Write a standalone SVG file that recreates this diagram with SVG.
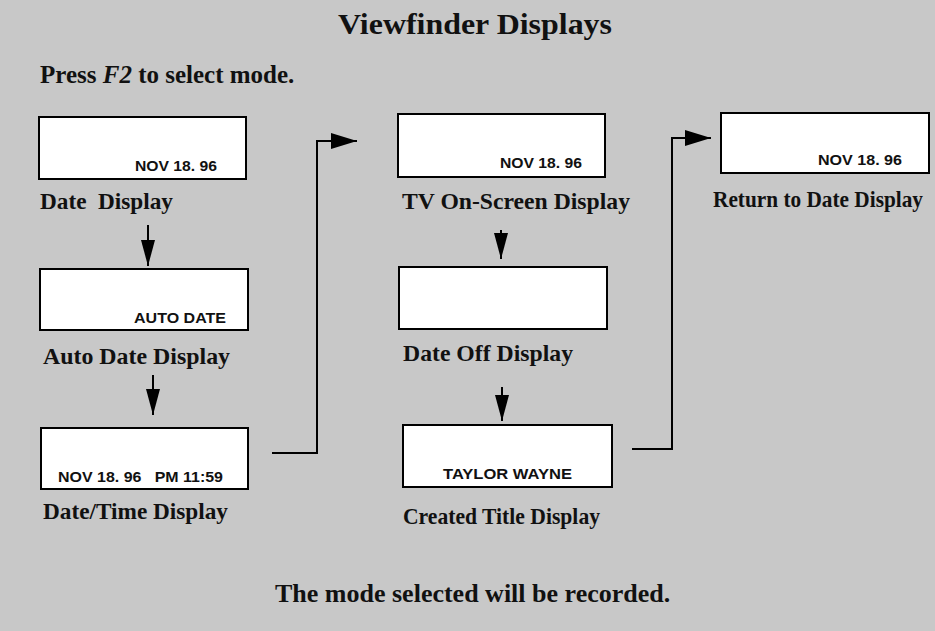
<svg xmlns="http://www.w3.org/2000/svg" width="935" height="631" viewBox="0 0 935 631">
<defs>
<style>
.bg{fill:#c8c8c8}
.box{fill:#ffffff;stroke:#000;stroke-width:2}
.lcd{font-family:"Liberation Sans",Arial,sans-serif;font-weight:bold;font-size:14px;fill:#111}
.lbl{font-family:"Liberation Serif","Times New Roman",serif;font-weight:bold;font-size:23px;fill:#111}
.head{font-family:"Liberation Serif","Times New Roman",serif;font-weight:bold;fill:#111}
.wire{fill:none;stroke:#000;stroke-width:2}
</style>
<marker id="ah" viewBox="0 0 26 16" refX="26" refY="8" markerWidth="26" markerHeight="16" markerUnits="userSpaceOnUse" orient="auto">
<path d="M0,0 L26,8 L0,16 Z" fill="#000"/>
</marker>
<marker id="ad" viewBox="0 0 26 14" refX="26" refY="7" markerWidth="26" markerHeight="14" markerUnits="userSpaceOnUse" orient="auto">
<path d="M0,0 L26,7 L0,14 Z" fill="#000"/>
</marker>
</defs>
<rect class="bg" x="0" y="0" width="935" height="631"/>

<text class="head" x="338" y="34" font-size="30" textLength="274" lengthAdjust="spacingAndGlyphs">Viewfinder Displays</text>
<text class="head" x="40" y="83" font-size="25">Press <tspan font-style="italic">F2</tspan> to select mode.</text>

<g id="date-display">
<rect class="box" x="39" y="117" width="207" height="62"/>
<text class="lcd" x="135" y="171" textLength="82" lengthAdjust="spacingAndGlyphs">NOV 18. 96</text>
<text class="lbl" x="40" y="209" textLength="133" lengthAdjust="spacingAndGlyphs" xml:space="preserve">Date  Display</text>
</g>
<g id="auto-date-display">
<rect class="box" x="40" y="269" width="208" height="61"/>
<text class="lcd" x="134" y="323" textLength="92" lengthAdjust="spacingAndGlyphs">AUTO DATE</text>
<text class="lbl" x="43" y="364" textLength="187" lengthAdjust="spacingAndGlyphs">Auto Date Display</text>
</g>
<g id="date-time-display">
<rect class="box" x="41" y="428" width="207" height="61"/>
<text class="lcd" x="58" y="482" textLength="165" lengthAdjust="spacingAndGlyphs" xml:space="preserve">NOV 18. 96   PM 11:59</text>
<text class="lbl" x="43" y="519" textLength="185" lengthAdjust="spacingAndGlyphs">Date/Time Display</text>
</g>
<g id="tv-on-screen-display">
<rect class="box" x="398" y="114" width="207" height="63"/>
<text class="lcd" x="500" y="168" textLength="82" lengthAdjust="spacingAndGlyphs">NOV 18. 96</text>
<text class="lbl" x="402" y="209" textLength="228" lengthAdjust="spacingAndGlyphs">TV On-Screen Display</text>
</g>
<g id="date-off-display">
<rect class="box" x="399" y="267" width="208" height="62"/>
<text class="lbl" x="403" y="361" textLength="170" lengthAdjust="spacingAndGlyphs">Date Off Display</text>
</g>
<g id="created-title-display">
<rect class="box" x="403" y="425" width="209" height="62"/>
<text class="lcd" x="443" y="479" textLength="129" lengthAdjust="spacingAndGlyphs">TAYLOR WAYNE</text>
<text class="lbl" x="403" y="524" textLength="197" lengthAdjust="spacingAndGlyphs">Created Title Display</text>
</g>
<g id="return-to-date-display">
<rect class="box" x="721" y="113" width="208" height="60"/>
<text class="lcd" x="818" y="165" textLength="84" lengthAdjust="spacingAndGlyphs">NOV 18. 96</text>
<text class="lbl" x="713" y="207" font-size="21" textLength="210" lengthAdjust="spacingAndGlyphs">Return to Date Display</text>
</g>

<g id="connectors">
<line class="wire" x1="148" y1="225" x2="148" y2="266" marker-end="url(#ad)"/>
<line class="wire" x1="153" y1="375" x2="153" y2="415" marker-end="url(#ad)"/>
<line class="wire" x1="501" y1="230" x2="501" y2="259" marker-end="url(#ad)"/>
<line class="wire" x1="502" y1="387" x2="502" y2="421" marker-end="url(#ad)"/>
<polyline class="wire" points="272,453 317,453 317,141 357,141" marker-end="url(#ah)"/>
<polyline class="wire" points="632,449 672,449 672,138 711,138" marker-end="url(#ah)"/>
</g>

<text class="head" x="275" y="602" font-size="26">The mode selected will be recorded.</text>
</svg>
